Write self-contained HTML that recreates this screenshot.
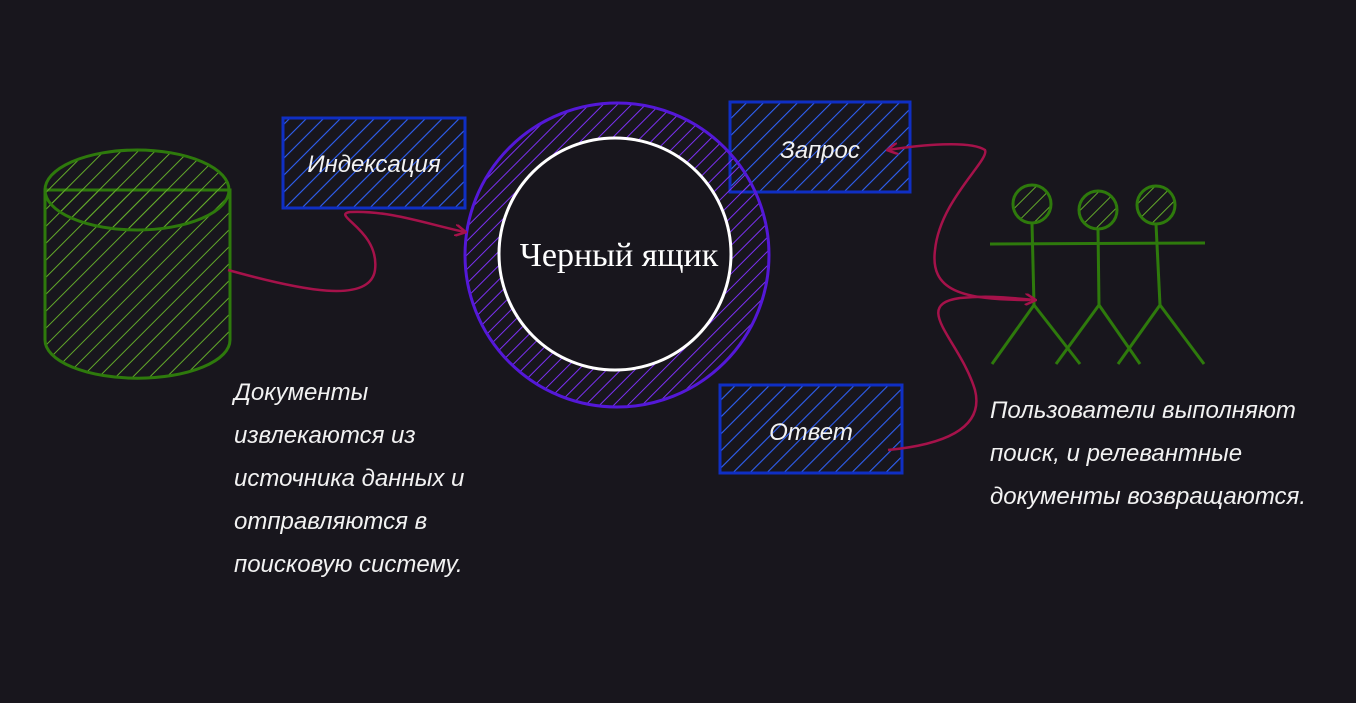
<!DOCTYPE html>
<html><head><meta charset="utf-8"><style>
html,body{margin:0;padding:0;background:#18161d;}
svg{display:block;}
.t{font-family:"Liberation Sans",sans-serif;font-style:italic;fill:#f2f2f2;}
</style></head><body>
<svg width="1356" height="703" viewBox="0 0 1356 703" xmlns="http://www.w3.org/2000/svg">
<defs>
<pattern id="hg" width="12" height="12" patternUnits="userSpaceOnUse" patternTransform="rotate(45)"><line x1="0" y1="0" x2="0" y2="12" stroke="#62a82a" stroke-width="2"/></pattern>
<pattern id="hb" width="12" height="12" patternUnits="userSpaceOnUse" patternTransform="rotate(45)"><line x1="0" y1="0" x2="0" y2="12" stroke="#2f60f5" stroke-width="2.2"/></pattern>
<pattern id="hp" width="10" height="10" patternUnits="userSpaceOnUse" patternTransform="rotate(45)"><line x1="0" y1="0" x2="0" y2="10" stroke="#7a30f2" stroke-width="2"/></pattern>
<marker id="ar" markerWidth="12" markerHeight="12" refX="10" refY="6" orient="auto" markerUnits="userSpaceOnUse"><path d="M0,0 L11,6 L0,12" fill="none" stroke="#a5124a" stroke-width="2.5"/></marker>
</defs>
<rect width="1356" height="703" fill="#18161d"/>
<path d="M45,190 L45,340 A92,38 0 0 0 230,340 L230,190 Z" fill="url(#hg)" stroke="#2e7a0c" stroke-width="3"/>
<ellipse cx="137" cy="190" rx="92" ry="40" fill="url(#hg)" stroke="#2e7a0c" stroke-width="3"/>
<rect x="283" y="118" width="182" height="90" fill="url(#hb)" stroke="#0f2fc4" stroke-width="3"/>
<text class="t" x="374" y="172" font-size="24" text-anchor="middle">Индексация</text>
<rect x="730" y="102" width="180" height="90" fill="url(#hb)" stroke="#0f2fc4" stroke-width="3"/>
<text class="t" x="820" y="158" font-size="24" text-anchor="middle">Запрос</text>
<rect x="720" y="385" width="182" height="88" fill="url(#hb)" stroke="#0f2fc4" stroke-width="3"/>
<text class="t" x="811" y="440" font-size="24" text-anchor="middle">Ответ</text>
<circle cx="617" cy="255" r="152" fill="url(#hp)" stroke="#5418d8" stroke-width="3"/>
<circle cx="615" cy="254" r="116" fill="#18161d" stroke="#ffffff" stroke-width="3"/>
<text x="619" y="266" font-family="'Liberation Serif',serif" font-size="34" fill="#fff" text-anchor="middle">Черный ящик</text>
<g stroke="#2e7a0c" stroke-width="3" fill="url(#hg)">
<circle cx="1032" cy="204" r="19"/><circle cx="1098" cy="210" r="19"/><circle cx="1156" cy="205" r="19"/>
</g>
<g stroke="#2e7a0c" stroke-width="3" fill="none">
<line x1="990" y1="244" x2="1205" y2="243"/>
<line x1="1032" y1="223" x2="1034" y2="305"/><line x1="1034" y1="305" x2="992" y2="364"/><line x1="1034" y1="305" x2="1080" y2="364"/>
<line x1="1098" y1="229" x2="1099" y2="305"/><line x1="1099" y1="305" x2="1056" y2="364"/><line x1="1099" y1="305" x2="1140" y2="364"/>
<line x1="1156" y1="224" x2="1160" y2="305"/><line x1="1160" y1="305" x2="1118" y2="364"/><line x1="1160" y1="305" x2="1204" y2="364"/>
</g>
<g stroke="#a5124a" stroke-width="2.5" fill="none">
<path d="M228,270 C300,290 370,305 375,270 C380,230 330,215 350,212 C390,210 430,225 465,232" marker-end="url(#ar)"/>
<path d="M1030,300 C960,300 930,290 935,250 C940,200 990,160 985,150 C970,140 920,145 888,150" marker-end="url(#ar)"/>
<path d="M888,450 C940,445 985,430 975,390 C960,340 910,305 960,298 C990,295 1010,298 1035,300" marker-end="url(#ar)"/>
</g>
<g class="t" font-size="24">
<text x="234" y="400">Документы</text>
<text x="234" y="443">извлекаются из</text>
<text x="234" y="486">источника данных и</text>
<text x="234" y="529">отправляются в</text>
<text x="234" y="572">поисковую систему.</text>
<text x="990" y="418">Пользователи выполняют</text>
<text x="990" y="461">поиск, и релевантные</text>
<text x="990" y="504">документы возвращаются.</text>
</g>
</svg>
</body></html>
